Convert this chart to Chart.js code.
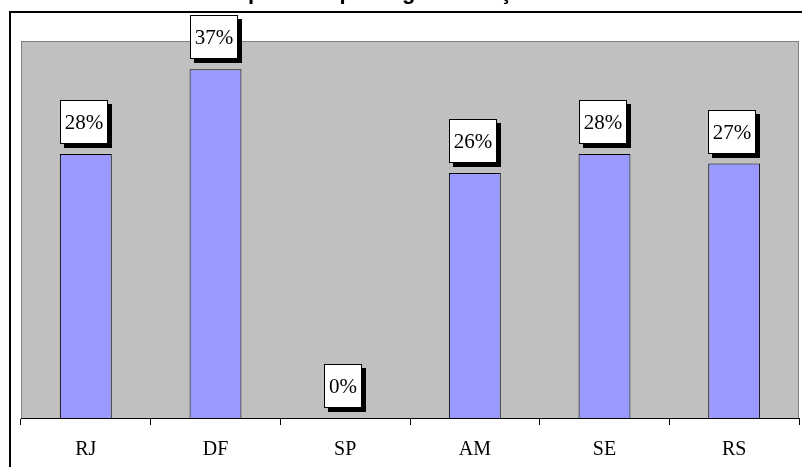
<!DOCTYPE html>
<html>
<head>
<meta charset="utf-8">
<script src="https://cdn.jsdelivr.net/npm/chart.js@4/dist/chart.umd.min.js"></script>
<style>
  html, body { margin: 0; padding: 0; background: #fff; }
  #wrap { width: 802px; height: 467px; position: relative; }
</style>
</head>
<body>
<div id="wrap"><canvas id="c"></canvas></div>
<script>
// Share per state (percent)
const categories = ['RJ', 'DF', 'SP', 'AM', 'SE', 'RS'];
const shares = [28, 37, 0, 26, 28, 27];
const yMax = 40;
const titleText = 'Comparativo por região: adoção';

// Page background, clipped title, outer frame and grey plot area
const backdrop = {
  id: 'backdrop',
  beforeDraw(chart) {
    const { ctx, chartArea: a } = chart;
    ctx.save();
    ctx.fillStyle = '#fff';
    ctx.fillRect(0, 0, chart.width, chart.height);

    ctx.fillStyle = '#000';
    ctx.font = 'bold 22px "Liberation Sans", Arial, sans-serif';
    ctx.textAlign = 'left';
    ctx.textBaseline = 'alphabetic';
    ctx.fillText(titleText, 199, -1);

    ctx.strokeStyle = '#000';
    ctx.lineWidth = 2;
    ctx.strokeRect(10, 12, 1000, 1000);

    ctx.fillStyle = '#c0c0c0';
    ctx.fillRect(a.left, a.top, a.right - a.left, a.bottom - a.top);
    ctx.strokeStyle = '#808080';
    ctx.lineWidth = 1;
    ctx.strokeRect(a.left + 0.5, a.top + 0.5, a.right - a.left - 1, a.bottom - a.top);
    ctx.restore();
  }
};

// White value boxes with a black drop shadow above each bar
const valueBoxes = {
  id: 'valueBoxes',
  afterDatasetsDraw(chart) {
    const { ctx } = chart;
    const meta = chart.getDatasetMeta(0);
    ctx.save();
    ctx.font = '21px "Liberation Serif", "Times New Roman", serif';
    ctx.textAlign = 'center';
    ctx.textBaseline = 'middle';
    meta.data.forEach((bar, i) => {
      const text = shares[i] + '%';
      const w = Math.round(ctx.measureText(text).width + 10);
      const h = 44;
      const sh = 4;
      const x = Math.round(bar.x - (w + sh) / 2);
      const y = Math.round(bar.y - 6 - sh - h);
      ctx.fillStyle = '#000';
      ctx.fillRect(x + sh, y + sh, w, h);
      ctx.fillStyle = '#fff';
      ctx.fillRect(x, y, w, h);
      ctx.strokeStyle = '#000';
      ctx.lineWidth = 1;
      ctx.strokeRect(x + 0.5, y + 0.5, w - 1, h - 1);
      ctx.fillStyle = '#000';
      ctx.fillText(text, x + w / 2, y + h / 2 + 1);
    });
    ctx.restore();
  }
};

new Chart(document.getElementById('c'), {
  type: 'bar',
  data: {
    labels: categories,
    datasets: [{
      data: shares,
      backgroundColor: '#9999ff',
      borderColor: '#000',
      borderWidth: 1,
      borderSkipped: 'bottom',
      barPercentage: 0.4,
      categoryPercentage: 1.0
    }]
  },
  options: {
    responsive: true,
    maintainAspectRatio: false,
    animation: false,
    devicePixelRatio: 1,
    layout: { padding: { left: 21, right: 3, top: 41, bottom: 0 } },
    plugins: {
      legend: { display: false },
      title: { display: false },
      tooltip: { enabled: false }
    },
    scales: {
      x: {
        afterFit(scale) { scale.height = 49; },
        grid: {
          offset: true,
          drawOnChartArea: false,
          drawTicks: true,
          tickLength: 7,
          color: '#000',
          lineWidth: 1
        },
        border: { display: true, color: '#000', width: 1 },
        ticks: {
          color: '#000',
          padding: 13,
          font: { family: '"Liberation Serif", "Times New Roman", serif', size: 20 }
        }
      },
      y: {
        display: false,
        min: 0,
        max: yMax
      }
    }
  },
  plugins: [backdrop, valueBoxes]
});
</script>
</body>
</html>
